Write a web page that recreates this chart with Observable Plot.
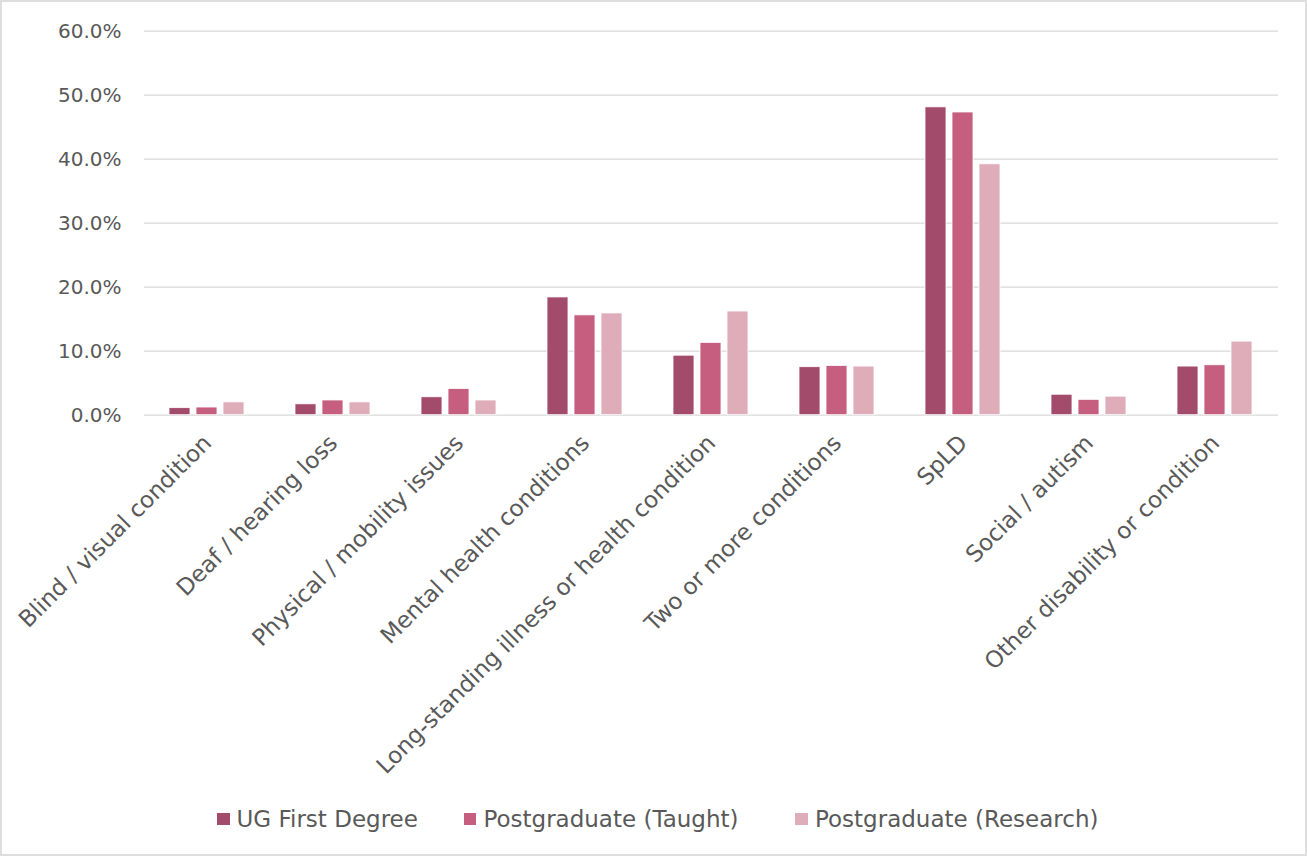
<!DOCTYPE html>
<html>
<head>
<meta charset="utf-8">
<script src="https://cdn.jsdelivr.net/npm/d3@7"></script>
<script src="https://cdn.jsdelivr.net/npm/@observablehq/plot@0.6"></script>
<style>
  html, body { margin: 0; background: #fff; }
  #chart {
    position: relative;
    width: 1307px;
    height: 856px;
    box-sizing: border-box;
    box-shadow: inset 0 0 0 2px #dedede;
    font-family: "DejaVu Sans", sans-serif;
    color: #595959;
    overflow: hidden;
  }
  #chart svg { display: block; background: transparent; }
  #chart [aria-label^="fx-axis"] text { font-size: 23px; }
  .legend {
    position: absolute;
    left: 217px; top: 806px;
    display: flex;
    justify-content: flex-start;
    font-size: 23px;
    line-height: 26px;
    white-space: nowrap;
  }
  .legend .item { display: flex; align-items: center; gap: 7px; }
  .legend .item + .item { margin-left: 46px; }
  .legend .item + .item + .item { margin-left: 57px; }
  .legend .sw { width: 12.5px; height: 12.5px; }
</style>
</head>
<body>
<div id="chart"></div>
<script>
// Share of disabled students by type of disability, per level of study (%)
const categories = [
  "Blind / visual condition",
  "Deaf / hearing loss",
  "Physical / mobility issues",
  "Mental health conditions",
  "Long-standing illness or health condition",
  "Two or more conditions",
  "SpLD",
  "Social / autism",
  "Other disability or condition"
];
const series = ["UG First Degree", "Postgraduate (Taught)", "Postgraduate (Research)"];
const ugFirstDegree = [1.1, 1.7, 2.8, 18.4, 9.3, 7.5, 48.1, 3.2, 7.6];
const pgTaught      = [1.2, 2.3, 4.1, 15.6, 11.3, 7.7, 47.3, 2.4, 7.8];
const pgResearch    = [2.0, 2.0, 2.3, 15.9, 16.2, 7.6, 39.2, 2.9, 11.5];
const colors = ["#a34b6b", "#c65e7f", "#dfadba"];
const yTicks = [0, 10, 20, 30, 40, 50, 60];

const seriesValues = [ugFirstDegree, pgTaught, pgResearch];
const rows = categories.flatMap((category, i) =>
  series.map((s, j) => ({category, series: s, value: seriesValues[j][i]}))
);

const chart = Plot.plot({
  width: 1307,
  height: 800,
  marginTop: 30.7,
  marginRight: 27,
  marginBottom: 385.3,
  marginLeft: 142,
  style: {
    background: "transparent",
    fontFamily: "'DejaVu Sans', sans-serif",
    fontSize: "20px",
    color: "#595959",
    overflow: "visible"
  },
  facet: {data: rows, x: "category"},
  fx: {
    domain: categories,
    padding: 0,
    label: null,
    tickRotate: -45,
    tickSize: 0,
    tickPadding: 24
  },
  x: {domain: series, paddingInner: 0.214, paddingOuter: 0.865, axis: null},
  y: {
    domain: [0, 60],
    ticks: yTicks,
    tickFormat: d => d.toFixed(1) + "%",
    tickSize: 0,
    tickPadding: 23,
    label: null
  },
  color: {domain: series, range: colors},
  marks: [
    Plot.ruleY(yTicks, {stroke: "#d9d9d9", strokeWidth: 1.3}),
    Plot.barY(rows, {x: "series", y: "value", fill: "series", stroke: "white", strokeWidth: 0.8})
  ]
});

const root = document.getElementById("chart");
root.appendChild(chart);

const legend = document.createElement("div");
legend.className = "legend";
series.forEach((s, i) => {
  const item = document.createElement("div");
  item.className = "item";
  const sw = document.createElement("span");
  sw.className = "sw";
  sw.style.background = colors[i];
  const label = document.createElement("span");
  label.textContent = s;
  item.append(sw, label);
  legend.appendChild(item);
});
root.appendChild(legend);
</script>
</body>
</html>
